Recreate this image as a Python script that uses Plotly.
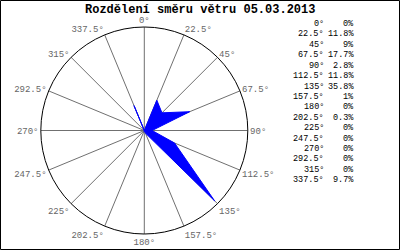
import plotly.graph_objects as go

title = "Rozdělení směru větru 05.03.2013"
directions = [0, 22.5, 45, 67.5, 90, 112.5, 135, 157.5, 180, 202.5, 225, 247.5, 270, 292.5, 315, 337.5]
dir_labels = ["0°", "22.5°", "45°", "67.5°", "90°", "112.5°", "135°", "157.5°", "180°",
              "202.5°", "225°", "247.5°", "270°", "292.5°", "315°", "337.5°"]
values = [0, 11.8, 9, 17.7, 2.8, 11.8, 35.8, 1, 0, 0.3, 0, 0, 0, 0, 0, 9.7]
value_labels = ["0%", "11.8%", "9%", "17.7%", "2.8%", "11.8%", "35.8%", "1%", "0%",
                "0.3%", "0%", "0%", "0%", "0%", "0%", "9.7%"]

W, H = 400, 250
MONO = "Liberation Mono, DejaVu Sans Mono, monospace"

fig = go.Figure()
fig.add_trace(go.Scatterpolar(
    r=values + [values[0]],
    theta=directions + [directions[0]],
    mode="lines",
    fill="toself",
    fillcolor="#0000ff",
    line=dict(color="#0000ff", width=1),
    hoverinfo="skip",
))

cx, cy, R = 144.3, 130.5, 103.5
fig.update_layout(
    width=W, height=H,
    margin=dict(l=0, r=0, t=0, b=0),
    paper_bgcolor="white",
    showlegend=False,
    polar=dict(
        domain=dict(x=[(cx - R) / W, (cx + R) / W], y=[1 - (cy + R) / H, 1 - (cy - R) / H]),
        bgcolor="white",
        radialaxis=dict(visible=False, range=[0, 37.3]),
        angularaxis=dict(
            direction="clockwise", rotation=90,
            tickmode="array", tickvals=directions, ticktext=dir_labels,
            showgrid=True, gridcolor="#707070", gridwidth=1,
            showline=True, linecolor="black", linewidth=1,
            ticks="", tickfont=dict(family=MONO, size=9, color="#666666"),
        ),
    ),
)

fig.add_annotation(x=0.5, y=1 - 9.5 / H, xref="paper", yref="paper", text="<b>" + title + "</b>",
                   showarrow=False, font=dict(family=MONO, size=12, color="black"),
                   xanchor="center", yanchor="middle")

row0, dy = 24, 10.42
for i, (d, v) in enumerate(zip(dir_labels, value_labels)):
    y = 1 - (row0 + i * dy) / H
    fig.add_annotation(x=325.5 / W, y=y, xref="paper", yref="paper", text=d, showarrow=False,
                       xanchor="right", yanchor="middle", font=dict(family=MONO, size=8.5, color="black"))
    fig.add_annotation(x=355.5 / W, y=y, xref="paper", yref="paper", text=v, showarrow=False,
                       xanchor="right", yanchor="middle", font=dict(family=MONO, size=8.5, color="black"))

fig.add_shape(type="rect", xref="paper", yref="paper", x0=0.5 / W, y0=0.5 / H, x1=1 - 0.5 / W, y1=1 - 0.5 / H,
              line=dict(color="black", width=1))

fig.write_html("out.html")
